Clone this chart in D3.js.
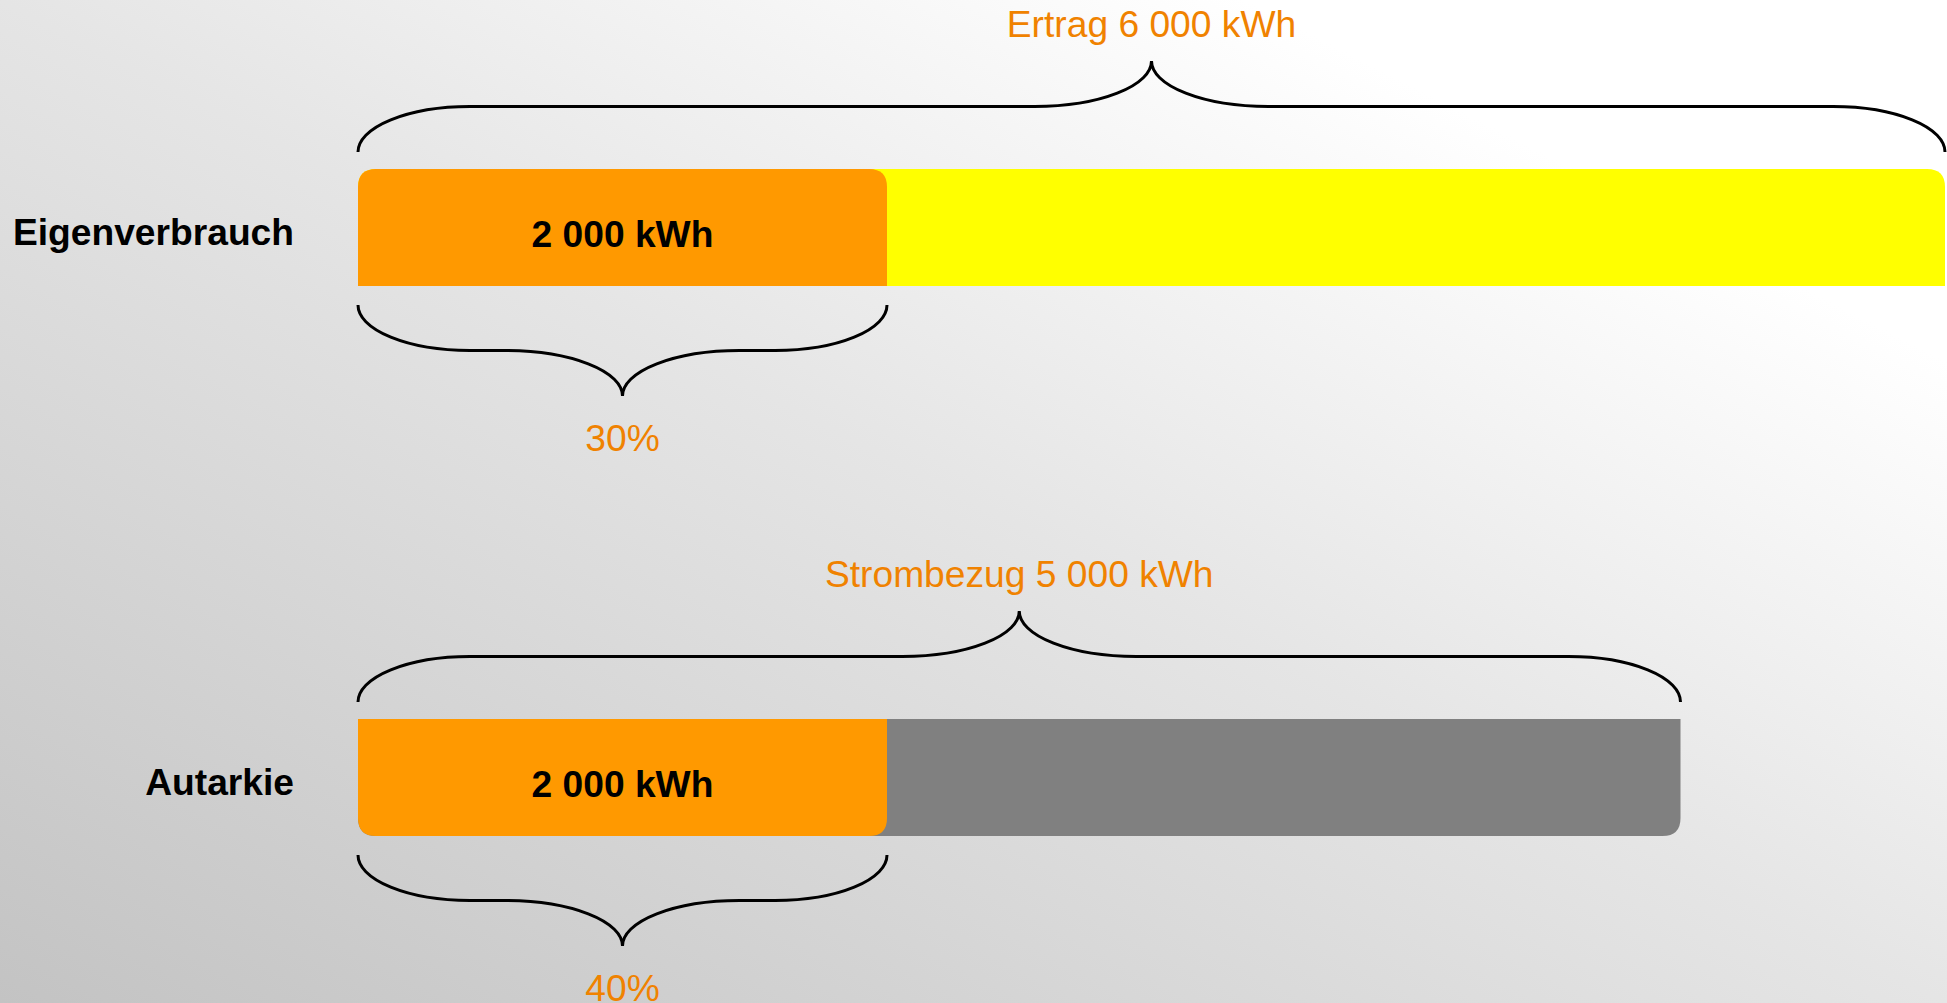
<!DOCTYPE html>
<html lang="de">
<head>
<meta charset="utf-8">
<title>Eigenverbrauch und Autarkie</title>
<script src="https://cdn.jsdelivr.net/npm/d3@7"></script>
<style>
  html, body { margin: 0; padding: 0; overflow: hidden; background: #fff; }
  svg { display: block; }
</style>
</head>
<body>
<svg id="chart" width="1947" height="1003"></svg>
<script>
// Rows of the chart
const categories  = ["Eigenverbrauch", "Autarkie"];
// Reference quantity per row (kWh) and its caption
const totalNames  = ["Ertrag", "Strombezug"];
const totals      = [6000, 5000];
// Self-consumed solar energy per row (kWh)
const ownValues   = [2000, 2000];
// Percentage caption under each row
const shareLabels = ["30%", "40%"];
// Fill of the remainder of each bar
const restColors  = ["#FFFF00", "#808080"];

const W = 1947, H = 1003;
const FONT = "'Liberation Sans', Arial, Helvetica, sans-serif";
const ORANGE = "#FF9900";
const TEXT_ORANGE = "#F08200";
const BAR_H = 117, RADIUS = 18;

const svg = d3.select("#chart");

// Soft diagonal background
const defs = svg.append("defs");
const grad = defs.append("linearGradient")
  .attr("id", "bg").attr("x1", 0).attr("y1", 1).attr("x2", 1).attr("y2", 0);
grad.append("stop").attr("offset", "0").attr("stop-color", "#c3c3c3");
grad.append("stop").attr("offset", "0.5").attr("stop-color", "#e5e5e5");
grad.append("stop").attr("offset", "0.82").attr("stop-color", "#ffffff");
grad.append("stop").attr("offset", "1").attr("stop-color", "#ffffff");
svg.append("rect").attr("width", W).attr("height", H).attr("fill", "url(#bg)");

const x = d3.scaleLinear().domain([0, 6000]).range([358, 1945]);
const y = d3.scalePoint().domain(categories).range([169, 719]);

const de = d3.formatLocale({ decimal: ",", thousands: " ", grouping: [3], currency: ["", " €"] });
const fmt = de.format(",");

// Bar with rounded corners on one long side only
function roundedBar(x0, x1, y0, y1, r, side) {
  if (side === "top") {
    return `M${x0},${y1} L${x0},${y0 + r} Q${x0},${y0} ${x0 + r},${y0} L${x1 - r},${y0} Q${x1},${y0} ${x1},${y0 + r} L${x1},${y1} Z`;
  }
  return `M${x0},${y0} L${x1},${y0} L${x1},${y1 - r} Q${x1},${y1} ${x1 - r},${y1} L${x0 + r},${y1} Q${x0},${y1} ${x0},${y1 - r} Z`;
}

// Curly brace from x0 to x1; dir = -1 opens downward (drawn above), +1 drawn below
function bracePath(x0, x1, yTip, dir) {
  const wEnd = 112, wMid = 117, h = 45.5;
  const xm = (x0 + x1) / 2, yMid = yTip + dir * h, yPeak = yTip + 2 * dir * h;
  const s1 = dir < 0 ? 1 : 0, s2 = 1 - s1;
  return `M${x0},${yTip} A${wEnd},${h} 0 0 ${s1} ${x0 + wEnd},${yMid}` +
         ` L${xm - wMid},${yMid} A${wMid},${h} 0 0 ${s2} ${xm},${yPeak}` +
         ` A${wMid},${h} 0 0 ${s2} ${xm + wMid},${yMid}` +
         ` L${x1 - wEnd},${yMid} A${wEnd},${h} 0 0 ${s1} ${x1},${yTip}`;
}

const rows = categories.map((c, i) => ({
  cat: c, total: totals[i], own: ownValues[i], name: totalNames[i],
  share: shareLabels[i], rest: restColors[i], side: i === 0 ? "top" : "bottom"
}));

const g = svg.selectAll("g.row").data(rows).join("g").attr("class", "row");

// Whole bar (reference quantity)
g.append("path")
  .attr("d", d => roundedBar(x(0), x(d.total), y(d.cat), y(d.cat) + BAR_H, RADIUS, d.side))
  .attr("fill", d => d.rest);

// Self-consumed part
g.append("path")
  .attr("d", d => roundedBar(x(0), x(d.own), y(d.cat), y(d.cat) + BAR_H, RADIUS, d.side))
  .attr("fill", ORANGE);

// Value inside the orange part
g.append("text")
  .attr("x", d => (x(0) + x(d.own)) / 2)
  .attr("y", d => y(d.cat) + 77.5)
  .attr("text-anchor", "middle")
  .attr("font-family", FONT).attr("font-weight", "bold").attr("font-size", 37.2)
  .attr("fill", "#000")
  .text(d => `${fmt(d.own)} kWh`);

// Row label
g.append("text")
  .attr("x", 294)
  .attr("y", d => y(d.cat) + 75.5)
  .attr("text-anchor", "end")
  .attr("font-family", FONT).attr("font-weight", "bold").attr("font-size", 37.2)
  .attr("fill", "#000")
  .text(d => d.cat);

// Brace above the whole bar
g.append("path")
  .attr("d", d => bracePath(x(0), x(d.total), y(d.cat) - 17, -1))
  .attr("fill", "none").attr("stroke", "#000").attr("stroke-width", 3);

g.append("text")
  .attr("x", d => (x(0) + x(d.total)) / 2)
  .attr("y", d => y(d.cat) - 132.5)
  .attr("text-anchor", "middle")
  .attr("font-family", FONT).attr("font-size", 37.2)
  .attr("fill", TEXT_ORANGE)
  .text(d => `${d.name} ${fmt(d.total)} kWh`);

// Brace below the orange part
g.append("path")
  .attr("d", d => bracePath(x(0), x(d.own), y(d.cat) + BAR_H + 19, 1))
  .attr("fill", "none").attr("stroke", "#000").attr("stroke-width", 3);

g.append("text")
  .attr("x", d => (x(0) + x(d.own)) / 2)
  .attr("y", d => y(d.cat) + BAR_H + 165)
  .attr("text-anchor", "middle")
  .attr("font-family", FONT).attr("font-size", 37.2)
  .attr("fill", TEXT_ORANGE)
  .text(d => d.share);
</script>
</body>
</html>
